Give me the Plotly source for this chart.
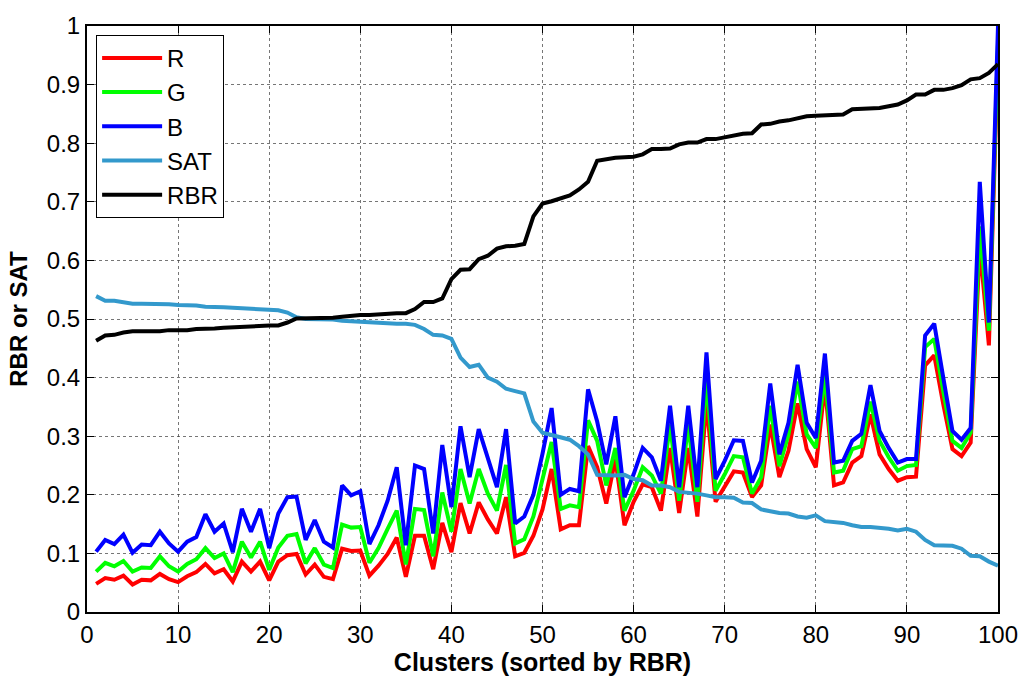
import plotly.graph_objects as go

clusters = list(range(1, 101))

R = [0.048, 0.058, 0.055, 0.062, 0.047, 0.055, 0.054, 0.065, 0.056, 0.051,
     0.061, 0.068, 0.082, 0.066, 0.073, 0.052, 0.086, 0.069, 0.086, 0.054,
     0.086, 0.097, 0.099, 0.064, 0.081, 0.060, 0.056, 0.108, 0.104, 0.105,
     0.062, 0.079, 0.099, 0.127, 0.060, 0.130, 0.130, 0.073, 0.152, 0.102,
     0.186, 0.134, 0.187, 0.158, 0.134, 0.196, 0.095, 0.101, 0.130, 0.175,
     0.244, 0.141, 0.148, 0.148, 0.283, 0.247, 0.185, 0.261, 0.148, 0.188,
     0.218, 0.213, 0.173, 0.280, 0.169, 0.280, 0.163, 0.359, 0.188, 0.213,
     0.240, 0.238, 0.196, 0.216, 0.320, 0.230, 0.275, 0.356, 0.278, 0.247,
     0.387, 0.216, 0.221, 0.255, 0.266, 0.337, 0.269, 0.244, 0.224, 0.230,
     0.231, 0.421, 0.438, 0.354, 0.278, 0.266, 0.289, 0.624, 0.455, 0.950]

G = [0.069, 0.084, 0.078, 0.087, 0.069, 0.076, 0.075, 0.095, 0.078, 0.069,
     0.082, 0.090, 0.109, 0.092, 0.100, 0.068, 0.120, 0.093, 0.120, 0.072,
     0.110, 0.130, 0.133, 0.083, 0.109, 0.081, 0.075, 0.149, 0.144, 0.145,
     0.084, 0.109, 0.142, 0.173, 0.081, 0.176, 0.174, 0.095, 0.204, 0.137,
     0.244, 0.185, 0.244, 0.202, 0.173, 0.251, 0.117, 0.124, 0.163, 0.225,
     0.290, 0.176, 0.182, 0.179, 0.327, 0.292, 0.216, 0.280, 0.173, 0.207,
     0.247, 0.233, 0.202, 0.320, 0.190, 0.320, 0.188, 0.399, 0.207, 0.235,
     0.266, 0.264, 0.202, 0.230, 0.352, 0.249, 0.303, 0.393, 0.303, 0.280,
     0.404, 0.238, 0.241, 0.278, 0.283, 0.359, 0.292, 0.264, 0.241, 0.249,
     0.251, 0.452, 0.466, 0.376, 0.292, 0.280, 0.306, 0.658, 0.480, 0.970]

B = [0.103, 0.123, 0.116, 0.132, 0.101, 0.115, 0.114, 0.137, 0.117, 0.103,
     0.120, 0.128, 0.167, 0.137, 0.151, 0.102, 0.176, 0.137, 0.176, 0.109,
     0.168, 0.196, 0.197, 0.123, 0.157, 0.120, 0.110, 0.216, 0.199, 0.206,
     0.116, 0.148, 0.190, 0.247, 0.114, 0.250, 0.244, 0.134, 0.285, 0.179,
     0.317, 0.230, 0.312, 0.264, 0.213, 0.312, 0.151, 0.163, 0.200, 0.270,
     0.348, 0.200, 0.210, 0.206, 0.380, 0.325, 0.252, 0.334, 0.196, 0.235,
     0.280, 0.264, 0.224, 0.352, 0.213, 0.352, 0.213, 0.443, 0.227, 0.258,
     0.293, 0.292, 0.221, 0.258, 0.390, 0.269, 0.323, 0.422, 0.323, 0.297,
     0.441, 0.255, 0.258, 0.292, 0.304, 0.387, 0.309, 0.280, 0.255, 0.261,
     0.261, 0.472, 0.492, 0.399, 0.309, 0.294, 0.314, 0.734, 0.494, 1.000]

SAT = [0.539, 0.531, 0.531, 0.528, 0.526, 0.526, 0.526, 0.526, 0.525, 0.524,
       0.524, 0.523, 0.521, 0.521, 0.520, 0.519, 0.518, 0.517, 0.516, 0.516,
       0.515, 0.511, 0.503, 0.500, 0.500, 0.499, 0.499, 0.497, 0.496, 0.495,
       0.494, 0.494, 0.493, 0.492, 0.492, 0.490, 0.483, 0.473, 0.472, 0.466,
       0.434, 0.418, 0.422, 0.400, 0.393, 0.381, 0.377, 0.373, 0.325, 0.306,
       0.302, 0.298, 0.294, 0.283, 0.269, 0.234, 0.233, 0.233, 0.234, 0.227,
       0.225, 0.216, 0.216, 0.213, 0.205, 0.204, 0.202, 0.199, 0.196, 0.196,
       0.195, 0.187, 0.186, 0.175, 0.172, 0.169, 0.168, 0.163, 0.161, 0.165,
       0.155, 0.154, 0.152, 0.148, 0.145, 0.145, 0.144, 0.142, 0.139, 0.142,
       0.137, 0.123, 0.114, 0.113, 0.113, 0.108, 0.096, 0.095, 0.086, 0.079]

RBR = [0.463, 0.472, 0.473, 0.477, 0.479, 0.479, 0.479, 0.479, 0.481, 0.481,
       0.481, 0.483, 0.483, 0.484, 0.485, 0.486, 0.486, 0.488, 0.489, 0.489,
       0.489, 0.494, 0.501, 0.501, 0.501, 0.501, 0.502, 0.504, 0.506, 0.507,
       0.507, 0.508, 0.510, 0.510, 0.510, 0.517, 0.529, 0.529, 0.535, 0.568,
       0.584, 0.585, 0.602, 0.608, 0.620, 0.624, 0.625, 0.628, 0.675, 0.697,
       0.701, 0.706, 0.711, 0.721, 0.734, 0.770, 0.773, 0.775, 0.776, 0.777,
       0.781, 0.790, 0.790, 0.791, 0.798, 0.801, 0.801, 0.807, 0.807, 0.810,
       0.814, 0.816, 0.817, 0.832, 0.833, 0.837, 0.839, 0.842, 0.846, 0.847,
       0.848, 0.848, 0.849, 0.858, 0.859, 0.860, 0.860, 0.863, 0.866, 0.873,
       0.883, 0.883, 0.891, 0.891, 0.894, 0.899, 0.909, 0.911, 0.920, 0.935]

series = [("R", R, "#FF0000"), ("G", G, "#00FF00"), ("B", B, "#0000FF"),
          ("SAT", SAT, "#3399CC"), ("RBR", RBR, "#000000")]

FONT = "Arial, Liberation Sans, sans-serif"

fig = go.Figure()
for name, vals, col in series:
    fig.add_trace(go.Scatter(x=clusters, y=vals, mode="lines", name=name,
                             line=dict(color=col, width=4)))

axis_common = dict(
    showline=True, linecolor="black", linewidth=2, mirror="ticks",
    ticks="inside", ticklen=7, tickwidth=1, tickcolor="black",
    showgrid=True, gridcolor="rgba(60,60,60,0.7)", griddash="dot", gridwidth=1,
    zeroline=False, tickfont=dict(family=FONT, size=24, color="black"),
)

fig.update_xaxes(range=[0, 100], dtick=10, tick0=0,
                 title=dict(text="<b>Clusters (sorted by RBR)</b>", standoff=0,
                            font=dict(family=FONT, size=25, color="black")),
                 **axis_common)
fig.update_yaxes(range=[0, 1], dtick=0.1, tick0=0,
                 title=dict(text="<b>RBR or SAT</b>", standoff=12,
                            font=dict(family=FONT, size=24, color="black")),
                 **axis_common)

fig.update_layout(
    width=1030, height=677,
    margin=dict(l=87, r=24, t=24, b=61),
    paper_bgcolor="white", plot_bgcolor="white",
    font=dict(family=FONT, color="black"),
    legend=dict(x=0.01, y=0.985, xanchor="left", yanchor="top",
                bgcolor="white", bordercolor="black", borderwidth=1,
                font=dict(family=FONT, size=24, color="black"),
                tracegroupgap=0, itemwidth=60),
    showlegend=True,
)

fig.write_html("out.html")
